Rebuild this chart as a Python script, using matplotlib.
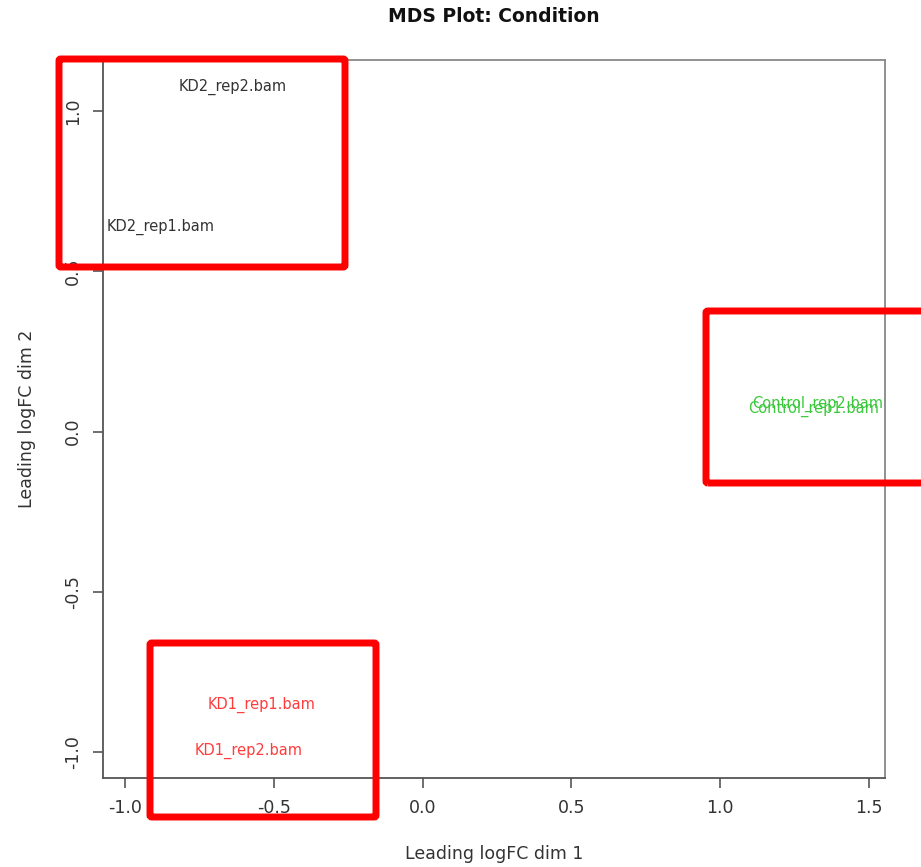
import matplotlib
matplotlib.use("Agg")
import matplotlib.pyplot as plt
from matplotlib.patches import FancyBboxPatch

# MDS coordinates
samples = ["KD2_rep2.bam", "KD2_rep1.bam", "KD1_rep1.bam", "KD1_rep2.bam",
           "Control_rep2.bam", "Control_rep1.bam"]
dim1 = [-0.638, -0.879, -0.540, -0.584, 1.329, 1.315]
dim2 = [1.075, 0.637, -0.853, -0.997, 0.087, 0.069]
colours = ["#333333", "#333333", "#ff3b3b", "#ff3b3b", "#3cc83c", "#3cc83c"]

xticks = [-1.0, -0.5, 0.0, 0.5, 1.0, 1.5]
yticks = [-1.0, -0.5, 0.0, 0.5, 1.0]

# highlight boxes (pixel corners on the 921x867 canvas)
boxes = [(59, 59, 345, 267), (706, 311, 930, 483), (150, 643, 376, 817)]

W, H = 921, 867
fig = plt.figure(figsize=(W / 100, H / 100), dpi=100)
ax = fig.add_axes([103 / W, (H - 778) / H, 782 / W, 718 / H])

for x, y, s, c in zip(dim1, dim2, samples, colours):
    ax.text(x, y, s, color=c, fontsize=10.5, ha="center", va="center")

ax.set_xlim(-1.074, 1.554)
ax.set_ylim(-1.081, 1.159)
ax.set_xticks(xticks)
ax.set_xticklabels([f"{t:.1f}" for t in xticks])
ax.set_yticks(yticks)
ax.set_yticklabels([f"{t:.1f}" for t in yticks], rotation=90, va="center")
ax.tick_params(direction="out", length=7, width=1.2, colors="#555555",
               labelcolor="#333333", labelsize=12.5, pad=8)
for sp in ax.spines.values():
    sp.set_color("#888888")
    sp.set_linewidth(1.3)
ax.spines["left"].set_color("#555555")
ax.spines["bottom"].set_color("#555555")

ax.set_xlabel("Leading logFC dim 1", fontsize=12.5, color="#333333", labelpad=20)
ax.set_ylabel("Leading logFC dim 2", fontsize=12.5, color="#333333", labelpad=20)
fig.text(494 / W, 1 - 17 / H, "MDS Plot: Condition", fontsize=13.5,
         fontweight="bold", ha="center", va="center", color="#111111")

for x0, y0, x1, y1 in boxes:
    r = FancyBboxPatch((x0 / W, 1 - y1 / H), (x1 - x0) / W, (y1 - y0) / H,
                       boxstyle="round,pad=0,rounding_size=0.002",
                       transform=fig.transFigure, fill=False,
                       edgecolor="#ff0000", linewidth=5, clip_on=False)
    fig.add_artist(r)

fig.savefig("out.png", dpi=100)
